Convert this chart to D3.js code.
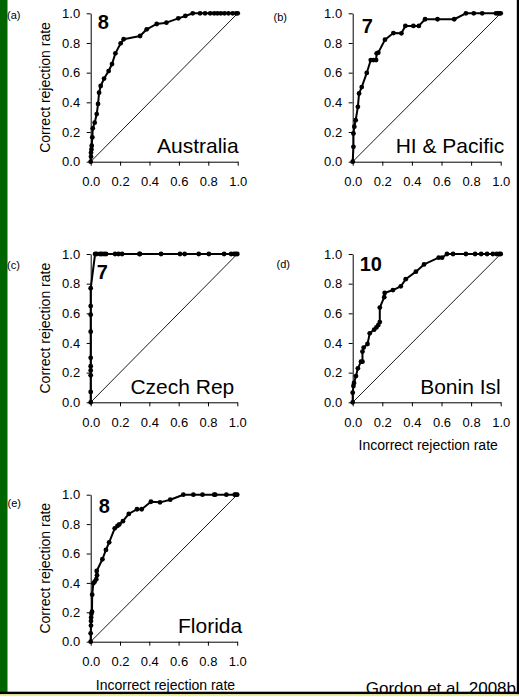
<!DOCTYPE html>
<html>
<head>
<meta charset="utf-8">
<script src="https://cdn.jsdelivr.net/npm/d3@7/dist/d3.min.js"></script>
<style>
  html, body { margin: 0; padding: 0; background: #fff; }
  svg { display: block; }
  text { font-family: "Liberation Sans", Arial, Helvetica, sans-serif; fill: #000; }
</style>
</head>
<body>
<svg id="chart" width="519" height="697"></svg>
<script>
// ---------------- data ----------------
const tickValues = [0, 0.2, 0.4, 0.6, 0.8, 1.0];
const yAxisTitle = "Correct rejection rate";
const xAxisTitle = "Incorrect rejection rate";
const credit = "Gordon et al. 2008b";

const panelLetters = ["(a)", "(b)", "(c)", "(d)", "(e)"];
const panelNames = ["Australia", "HI & Pacific", "Czech Rep", "Bonin Isl", "Florida"];
const panelNumbers = ["8", "7", "7", "10", "8"];

const australia = [[0,0],[0.002,0.034],[0.002,0.06],[0.005,0.083],[0.007,0.108],[0.011,0.164],[0.014,0.225],[0.027,0.263],[0.041,0.321],[0.05,0.389],[0.057,0.465],[0.068,0.51],[0.091,0.56],[0.122,0.611],[0.145,0.658],[0.168,0.73],[0.204,0.798],[0.224,0.825],[0.336,0.847],[0.381,0.892],[0.449,0.928],[0.515,0.937],[0.596,0.966],[0.644,0.982],[0.694,1],[0.744,1],[0.778,1],[0.813,1],[0.84,1],[0.862,1],[0.885,1],[0.91,1],[0.937,1],[0.966,1],[0.99,1],[1,1]];
const hiPacific = [[0,0],[0.005,0.1],[0.005,0.19],[0.011,0.236],[0.02,0.28],[0.035,0.37],[0.043,0.46],[0.061,0.503],[0.095,0.598],[0.122,0.685],[0.14,0.685],[0.158,0.685],[0.162,0.73],[0.173,0.735],[0.218,0.822],[0.275,0.867],[0.329,0.865],[0.356,0.915],[0.41,0.915],[0.447,0.915],[0.489,0.96],[0.573,0.96],[0.686,0.96],[0.765,1],[0.818,1],[0.875,1],[0.968,1],[0.98,1],[0.992,1],[1,1]];
const czechRep = [[0,0],[0,0.07],[0,0.182],[0,0.215],[0,0.243],[0,0.3],[0,0.476],[0,0.591],[0,0.649],[0,0.769],[0.03,1],[0.041,1],[0.064,1],[0.075,1],[0.091,1],[0.105,1],[0.166,1],[0.189,1],[0.214,1],[0.332,1],[0.336,1],[0.48,1],[0.609,1],[0.641,1],[0.737,1],[0.806,1],[0.91,1],[0.958,1],[0.978,1],[0.99,1],[1,1]];
const boninIsl = [[0,0],[0,0.065],[0.005,0.11],[0.009,0.13],[0.022,0.177],[0.035,0.229],[0.056,0.274],[0.066,0.274],[0.066,0.342],[0.074,0.369],[0.1,0.393],[0.115,0.465],[0.145,0.49],[0.16,0.505],[0.173,0.521],[0.183,0.541],[0.183,0.639],[0.213,0.709],[0.216,0.737],[0.272,0.757],[0.325,0.782],[0.358,0.83],[0.427,0.881],[0.482,0.93],[0.581,0.975],[0.604,0.975],[0.637,1],[0.678,1],[0.765,1],[0.827,1],[0.868,1],[0.908,1],[0.947,1],[0.973,1],[0.991,1],[1,1]];
const florida = [[0,0],[0,0.057],[0.002,0.11],[0.002,0.14],[0.003,0.165],[0.005,0.19],[0.009,0.204],[0.01,0.32],[0.018,0.397],[0.027,0.408],[0.038,0.425],[0.043,0.452],[0.041,0.481],[0.08,0.561],[0.104,0.624],[0.126,0.676],[0.164,0.771],[0.183,0.788],[0.195,0.798],[0.22,0.82],[0.26,0.869],[0.316,0.901],[0.348,0.901],[0.411,0.952],[0.473,0.948],[0.543,0.966],[0.632,1],[0.701,1],[0.763,1],[0.843,1],[0.85,1],[0.926,1],[0.983,1],[0.99,1],[1,1]];
const panelSeries = [australia, hiPacific, czechRep, boninIsl, florida];

// ---------------- layout (positions / styles) ----------------
const layout = [
  { left: 90.7, top: 13.3, w: 147, h: 148.4, yTitle: true,  xTitle: false, letter: [7, 19],    num: [7, 16],    nameDx: 1.0 },
  { left: 352.7, top: 13.3, w: 148, h: 148.4, yTitle: false, xTitle: false, letter: [273.5, 20.5], num: [9, 20],  nameDx: 3.5 },
  { left: 90.7, top: 254, w: 146.6, h: 148.3, yTitle: true,  xTitle: false, letter: [7, 268.5], num: [6, 25.3],  nameDx: -3 },
  { left: 352.7, top: 254, w: 148, h: 148.3, yTitle: false, xTitle: true,  letter: [276.5, 268], num: [7, 16.7], nameDx: 0 },
  { left: 90.7, top: 494.7, w: 146.5, h: 147, yTitle: true,  xTitle: true,  letter: [7.5, 507], num: [8, 18.6],  nameDx: 5 }
];

const svg = d3.select("#chart");
const W = 519, H = 697;

svg.append("rect").attr("x", 0).attr("y", 0).attr("width", W).attr("height", H).attr("fill", "#fff");
// green side bar
svg.append("rect").attr("x", 0).attr("y", 0).attr("width", 7.5).attr("height", 692).attr("fill", "#006400");

const fmt = d3.format(".1f");

layout.forEach((L, i) => {
  const data = panelSeries[i];
  const x = d3.scaleLinear().domain([0, 1]).range([0, L.w]);
  const y = d3.scaleLinear().domain([0, 1]).range([L.h, 0]);
  const g = svg.append("g").attr("transform", `translate(${L.left},${L.top})`);

  // diagonal reference
  g.append("line")
    .attr("x1", x(0)).attr("y1", y(0)).attr("x2", x(1)).attr("y2", y(1))
    .attr("stroke", "#000").attr("stroke-width", 0.9);

  // axes
  const xa = g.append("g").attr("transform", `translate(0,${L.h})`)
    .call(d3.axisBottom(x).tickValues(tickValues).tickFormat(fmt).tickSize(4).tickSizeOuter(0).tickPadding(11));
  const ya = g.append("g")
    .call(d3.axisLeft(y).tickValues(tickValues).tickFormat(fmt).tickSize(4).tickSizeOuter(0).tickPadding(6.5));
  [xa, ya].forEach(a => {
    a.selectAll("path").attr("stroke", "#000").attr("stroke-width", 1);
    a.selectAll("line").attr("stroke", "#000").attr("stroke-width", 1);
    a.selectAll("text").attr("font-size", 13).attr("fill", "#000")
      .attr("font-family", '"Liberation Sans", Arial, sans-serif');
  });

  // curve
  g.append("path").datum(data)
    .attr("d", d3.line().x(d => x(d[0])).y(d => y(d[1])))
    .attr("fill", "none").attr("stroke", "#000").attr("stroke-width", 2)
    .attr("stroke-linejoin", "round");
  g.selectAll("circle.pt").data(data).join("circle")
    .attr("class", "pt")
    .attr("cx", d => x(d[0])).attr("cy", d => y(d[1])).attr("r", 2.4)
    .attr("fill", "#000");

  // number
  g.append("text").attr("x", L.num[0]).attr("y", L.num[1])
    .attr("font-size", 20).attr("font-weight", "bold").text(panelNumbers[i]);

  // region name
  g.append("text").attr("x", L.w + L.nameDx).attr("y", L.h - 8.8)
    .attr("text-anchor", "end").attr("font-size", 21).text(panelNames[i]);

  // titles
  if (L.yTitle) {
    g.append("text")
      .attr("transform", `translate(${45 - L.left},${L.h / 2}) rotate(-90)`)
      .attr("text-anchor", "middle").attr("dy", "0.35em")
      .attr("font-size", 14).text(yAxisTitle);
  }
  if (L.xTitle) {
    g.append("text").attr("x", L.w / 2 + 1.5).attr("y", L.h + 48)
      .attr("text-anchor", "middle").attr("font-size", 14).text(xAxisTitle);
  }

  // panel letter
  svg.append("text").attr("x", L.letter[0]).attr("y", L.letter[1])
    .attr("font-size", 11).text(panelLetters[i]);
});

// credit
svg.append("text").attr("x", 516).attr("y", 693.5).attr("text-anchor", "end")
  .attr("font-size", 17).text(credit);

// frame lines
svg.append("rect").attr("x", 516.8).attr("y", 0).attr("width", 2.2).attr("height", 694.3).attr("fill", "#000");
svg.append("rect").attr("x", 0).attr("y", 691.7).attr("width", W).attr("height", 2.6).attr("fill", "#000");
svg.append("rect").attr("x", 0).attr("y", 694.3).attr("width", W).attr("height", 1.8).attr("fill", "#eeee88");
</script>
</body>
</html>
